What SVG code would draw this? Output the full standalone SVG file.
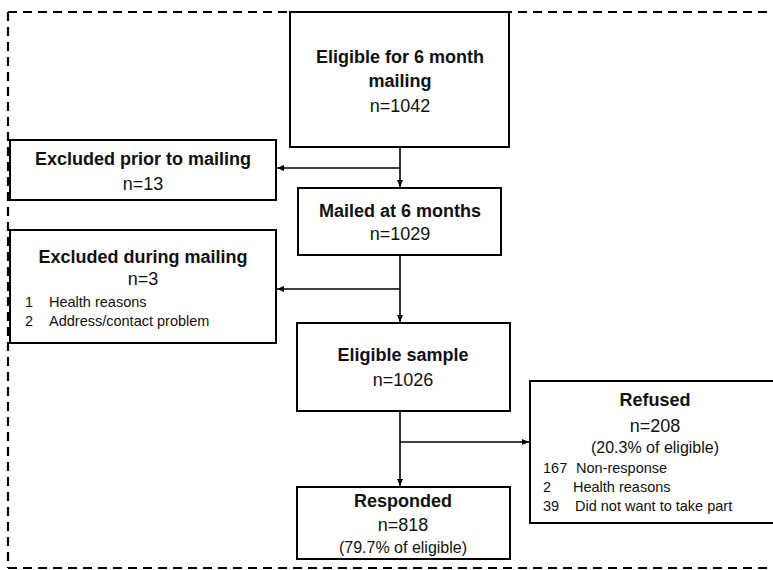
<svg xmlns="http://www.w3.org/2000/svg" width="773" height="570" viewBox="0 0 773 570">
<defs>
<marker id="arr" markerWidth="8" markerHeight="8" refX="7" refY="4" orient="auto" markerUnits="userSpaceOnUse">
<path d="M0,1 L7,4 L0,7 Z" fill="#000"/>
</marker>
<style>
.box{fill:#fff;stroke:#000;stroke-width:2}
.frame{fill:none;stroke:#000;stroke-width:2.2;stroke-dasharray:9 6}
.conn{fill:none;stroke:#000;stroke-width:1.6}
text{font-family:"Liberation Sans",Arial,sans-serif;fill:#111}
.t{font-size:18px;font-weight:bold;text-anchor:middle}
.n{font-size:18px;text-anchor:middle}
.p{font-size:16px;text-anchor:middle}
.l{font-size:14.5px}
</style>
</defs>
<g id="frame">
<path class="frame" d="M8,12 L773,12"/>
<path class="frame" d="M8,12 L8,568"/>
<path class="frame" d="M8,568 L767,568"/>
</g>
<g id="connectors">
<path class="conn" d="M400,147 L400,187" marker-end="url(#arr)"/>
<path class="conn" d="M400,168 L277,168" marker-end="url(#arr)"/>
<path class="conn" d="M400,255 L400,322" marker-end="url(#arr)"/>
<path class="conn" d="M400,289 L277,289" marker-end="url(#arr)"/>
<path class="conn" d="M400,411 L400,486" marker-end="url(#arr)"/>
<path class="conn" d="M400,442 L529,442" marker-end="url(#arr)"/>
</g>
<g id="eligible6">
<rect class="box" x="290" y="12" width="219" height="135"/>
<text class="t" x="400" y="63">Eligible for 6 month</text>
<text class="t" x="400" y="87">mailing</text>
<text class="n" x="400" y="112">n=1042</text>
</g>
<g id="excludedPrior">
<rect class="box" x="10" y="140" width="266" height="60"/>
<text class="t" x="143" y="165">Excluded prior to mailing</text>
<text class="n" x="143" y="190">n=13</text>
</g>
<g id="mailed">
<rect class="box" x="298" y="188" width="203" height="67"/>
<text class="t" x="400" y="217">Mailed at 6 months</text>
<text class="n" x="400" y="240">n=1029</text>
</g>
<g id="excludedDuring">
<rect class="box" x="10" y="230" width="266" height="113"/>
<text class="t" x="143" y="263">Excluded during mailing</text>
<text class="n" x="143" y="285">n=3</text>
<text class="l" x="25" y="307">1</text>
<text class="l" x="49" y="307">Health reasons</text>
<text class="l" x="25" y="326">2</text>
<text class="l" x="49" y="326">Address/contact problem</text>
</g>
<g id="eligibleSample">
<rect class="box" x="297" y="323" width="213" height="88"/>
<text class="t" x="403" y="361">Eligible sample</text>
<text class="n" x="403" y="386">n=1026</text>
</g>
<g id="refused">
<rect class="box" x="530" y="381" width="246" height="142"/>
<text class="t" x="655" y="406">Refused</text>
<text class="n" x="655" y="432">n=208</text>
<text class="p" x="655" y="453">(20.3% of eligible)</text>
<text class="l" x="543" y="473">167</text>
<text class="l" x="576" y="473">Non-response</text>
<text class="l" x="543" y="492">2</text>
<text class="l" x="573" y="492">Health reasons</text>
<text class="l" x="543" y="511">39</text>
<text class="l" x="575" y="511">Did not want to take part</text>
</g>
<g id="responded">
<rect class="box" x="297" y="487" width="213" height="72"/>
<text class="t" x="403" y="507">Responded</text>
<text class="n" x="403" y="531">n=818</text>
<text class="p" x="403" y="553">(79.7% of eligible)</text>
</g>
</svg>
